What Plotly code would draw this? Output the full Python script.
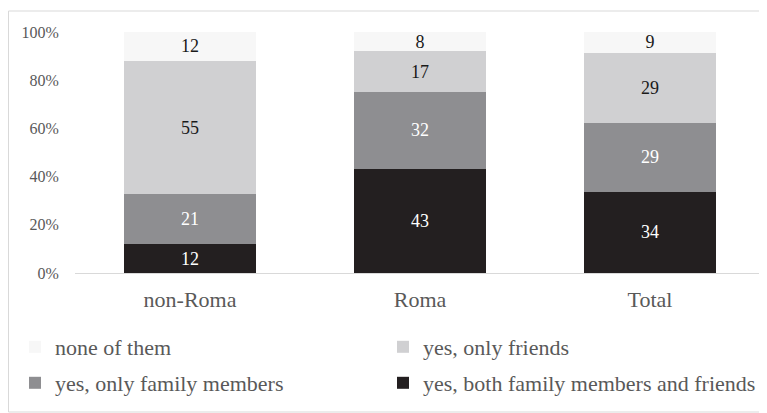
import plotly.graph_objects as go

categories = ["non-Roma", "Roma", "Total"]
both = [11.9, 43.2, 33.8]
family = [20.7, 31.9, 28.6]
friends = [55.4, 17.0, 29.0]
none_ = [12.0, 7.9, 8.6]
tick_vals = [0, 20, 40, 60, 80, 100]
tick_text = ["0%", "20%", "40%", "60%", "80%", "100%"]

FONT = "Liberation Serif"
series = [
    ("yes, both family members and friends", both, "#231f20", "white", "legend4"),
    ("yes, only family members", family, "#8e8e91", "white", "legend3"),
    ("yes, only friends", friends, "#d0d0d2", "#1a1a1a", "legend2"),
    ("none of them", none_, "#f7f7f7", "#1a1a1a", "legend"),
]

fig = go.Figure()
for name, vals, col, tcol, lg in series:
    fig.add_trace(go.Bar(
        x=categories, y=vals, name=name, marker=dict(color=col, line=dict(width=0)),
        texttemplate="%{y:.0f}", textposition="inside", insidetextanchor="middle",
        textangle=0, textfont=dict(family=FONT, size=18, color=tcol), constraintext="none",
        legend=lg,
    ))

# page body has an 8px margin; figure coordinates = screen - 8
W, H = 759, 405
L, R, T, B = 67, 2, 24, 140
pw, ph = W - L - R, H - T - B

def px_x(x):
    return (x - L) / pw

def px_y(y):
    return (H - B - y) / ph

def leg(xpx, ypx):
    return dict(orientation="h", xref="paper", yref="paper",
                x=px_x(xpx), y=px_y(ypx), xanchor="left", yanchor="middle",
                font=dict(family=FONT, size=22, color="#595959"),
                bgcolor="rgba(0,0,0,0)")

fig.update_layout(
    width=W, height=H, barmode="stack", bargap=0.43,
    margin=dict(l=L, r=R, t=T, b=B, autoexpand=False),
    paper_bgcolor="white", plot_bgcolor="white",
    font=dict(family=FONT, color="#595959"),
    xaxis=dict(showgrid=False, showline=True, linecolor="#d9d9d9", linewidth=1,
               ticks="outside", ticklen=7, tickcolor="rgba(0,0,0,0)",
               tickfont=dict(family=FONT, size=22, color="#595959")),
    yaxis=dict(range=[0, 100], tickvals=tick_vals, ticktext=tick_text, showgrid=False,
               zeroline=False, showline=False, ticks="outside", ticklen=12,
               tickcolor="rgba(0,0,0,0)", tickfont=dict(family=FONT, size=16, color="#595959")),
    legend=leg(7, 339),
    legend2=leg(375, 339),
    legend3=leg(7, 375),
    legend4=leg(375, 375),
    shapes=[dict(type="rect", xref="paper", yref="paper",
                 x0=px_x(0.5), x1=px_x(758), y0=px_y(404), y1=px_y(3),
                 line=dict(color="#d9d9d9", width=1), fillcolor="rgba(0,0,0,0)", layer="below")],
    showlegend=True,
)

fig.write_html("out.html")
